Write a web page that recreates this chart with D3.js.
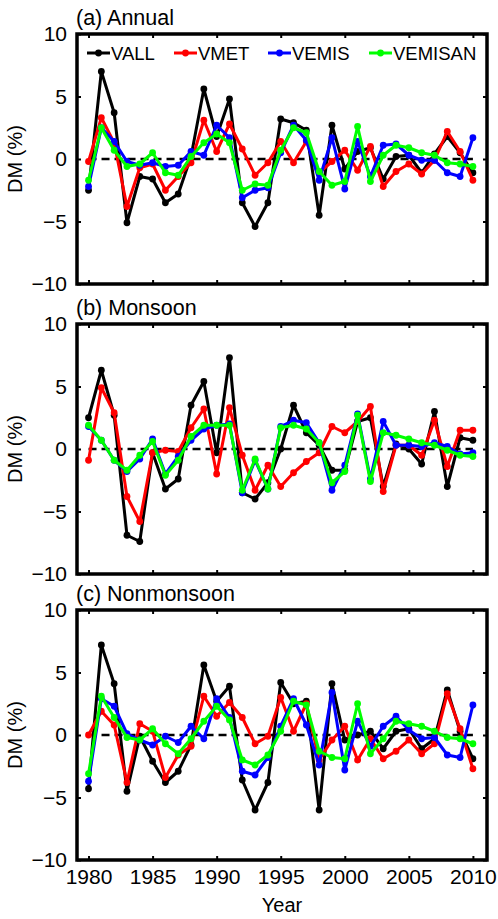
<!DOCTYPE html>
<html>
<head>
<meta charset="utf-8">
<script src="https://cdn.jsdelivr.net/npm/d3@7"></script>
<style>
  body { margin: 0; background: #fff; }
  text { font-family: "Liberation Sans", Arial, sans-serif; fill: #000; }
</style>
</head>
<body>
<div id="chart"></div>
<script>
// Years on the x axis
const years = d3.range(1980, 2011);
const xTicks = [1980, 1985, 1990, 1995, 2000, 2005, 2010];
const yTicks = [-10, -5, 0, 5, 10];

const seriesNames = ["VALL", "VMET", "VEMIS", "VEMISAN"];
const seriesColors = ["#000000", "#ff0000", "#0000ff", "#00ff00"];

// (a) Annual
const annualVALL = [-2.5, 7.0, 3.7, -5.1, -1.4, -1.6, -3.5, -2.8, 0.2, 5.6, 1.8, 4.8, -3.5, -5.4, -3.5, 3.2, 2.9, 2.3, -4.5, 2.7, -0.8, 0.6, 0.9, -1.6, 0.2, 0.3, -1.1, 0.4, 1.8, 0.5, -1.1];
const annualVMET = [-0.2, 3.3, 1.3, -3.8, -0.7, -0.4, -2.5, -1.4, -0.3, 3.1, 0.6, 2.8, 0.8, -1.3, -0.3, 1.4, -0.3, 1.4, -1.1, -0.2, 0.7, -0.9, 1.0, -2.2, -1.0, -0.4, -1.2, -0.1, 2.2, 0.6, -1.7];
const annualVEMIS = [-2.2, 2.5, 1.4, -0.2, -0.5, -0.3, -0.6, -0.5, 0.6, 0.3, 2.7, 1.7, -3.1, -2.5, -2.3, 0.5, 2.7, 1.5, -1.7, 1.7, -2.4, 1.4, -1.4, 1.1, 1.2, 0.3, -0.1, -0.1, -1.1, -1.4, 1.7];
const annualVEMISAN = [-1.7, 2.5, 0.7, -0.6, -0.4, 0.5, -1.1, -1.3, 0.2, 1.3, 2.0, 1.3, -2.5, -2.0, -2.1, 0.7, 2.5, 2.1, -1.0, -2.1, -1.8, 2.6, -1.8, 0.3, 1.1, 0.9, 0.5, 0.3, -0.3, -0.4, -0.6];

// (b) Monsoon
const monsoonVALL = [2.5, 6.3, 2.7, -6.9, -7.4, -0.3, -3.2, -2.4, 3.5, 5.4, -0.3, 7.3, -3.5, -4.0, -2.7, 0.0, 3.5, 1.3, 0.3, -1.7, -1.7, 2.2, 2.5, -3.0, 0.4, 0.0, -1.2, 3.0, -3.0, 0.9, 0.7];
const monsoonVMET = [-0.9, 4.9, 2.9, -3.8, -5.8, -0.3, -0.1, -0.2, 1.7, 3.2, -2.0, 3.3, -0.5, -3.3, -1.3, -3.0, -1.9, -1.0, -0.3, 1.8, 1.3, 2.2, 3.4, -3.4, 0.3, 0.3, -0.5, 2.3, -1.4, 1.5, 1.5];
const monsoonVEMIS = [1.8, 0.7, -0.9, -1.8, -0.8, 0.8, -2.0, -0.6, 0.7, 1.6, 1.9, 2.0, -3.5, -0.9, -3.2, 1.8, 2.3, 2.1, 0.5, -3.3, -1.3, 2.8, -2.4, 2.2, 0.3, 0.3, 0.2, 0.5, 0.2, -0.4, -0.3];
const monsoonVEMISAN = [1.9, 0.7, -0.9, -1.7, -0.5, 0.6, -2.1, -0.9, 1.0, 1.9, 1.9, 1.9, -3.3, -0.8, -3.2, 1.7, 1.9, 1.6, 0.5, -2.7, -1.8, 2.7, -2.6, 1.3, 1.1, 0.8, 0.5, 0.3, -0.1, -0.5, -0.6];

// (c) Nonmonsoon
const nonmonsoonVALL = [-4.3, 7.2, 4.1, -4.5, -0.1, -2.1, -3.8, -2.9, -0.8, 5.6, 2.7, 3.9, -3.6, -6.0, -3.8, 4.2, 2.5, 2.7, -6.0, 4.1, -0.4, 0.0, 0.3, -1.1, 0.3, 0.5, -1.1, -0.3, 3.6, 0.3, -1.9];
const nonmonsoonVMET = [0.0, 1.9, 0.8, -3.8, 0.9, 0.3, -3.4, -1.6, -0.9, 3.1, 1.5, 2.6, 1.4, -0.7, -0.1, 3.0, 0.3, 2.5, -2.0, -0.4, 0.7, -2.0, -0.3, -1.9, -1.3, -0.4, -1.5, -0.7, 3.3, 0.5, -2.7];
const nonmonsoonVEMIS = [-3.7, 2.9, 2.3, 0.1, -0.4, -0.8, -0.1, -0.6, 0.7, -0.3, 2.9, 1.4, -2.9, -3.2, -1.8, 0.7, 2.9, 0.8, -2.4, 3.4, -2.8, 1.1, -0.9, 0.7, 1.5, 0.4, -0.3, -0.2, -1.6, -1.8, 2.4];
const nonmonsoonVEMISAN = [-3.1, 3.1, 1.4, -0.2, -0.4, 0.5, -0.7, -1.5, -0.3, 1.1, 2.3, 1.2, -2.0, -2.4, -1.6, 0.3, 2.7, 2.4, -1.3, -1.8, -1.9, 2.5, -1.5, -0.3, 1.1, 0.9, 0.7, 0.3, -0.2, -0.3, -0.7];

const panels = [
  { title: "(a) Annual", series: [annualVALL, annualVMET, annualVEMIS, annualVEMISAN] },
  { title: "(b) Monsoon", series: [monsoonVALL, monsoonVMET, monsoonVEMIS, monsoonVEMISAN] },
  { title: "(c) Nonmonsoon", series: [nonmonsoonVALL, nonmonsoonVMET, nonmonsoonVEMIS, nonmonsoonVEMISAN] },
];

const config = {
  width: 498,
  height: 919,
  left: 77,
  right: 487,
  panelTops: [34, 324, 610],
  panelHeight: 250,
};

const svg = d3.select("#chart").append("svg")
  .attr("width", config.width)
  .attr("height", config.height);

// shared x scale
const xScale = d3.scaleLinear()
  .domain([1979.1, 2011.1])
  .range([config.left, config.right]);

const legendPos = [
  { x0: 87, x1: 110 },
  { x0: 174, x1: 197 },
  { x0: 268, x1: 291 },
  { x0: 369, x1: 392 },
];

panels.forEach((p, i) => {
  const top = config.panelTops[i];
  const bottom = top + config.panelHeight;
  const g = svg.append("g");

  const yScale = d3.scaleLinear().domain([-10, 10]).range([bottom, top]);

  // Title
  g.append("text")
    .attr("x", 76)
    .attr("y", top - 9)
    .attr("font-size", 21.5)
    .text(p.title);

  // y axis label
  g.append("text")
    .attr("transform", `translate(22,${(top + bottom) / 2}) rotate(-90)`)
    .attr("text-anchor", "middle")
    .attr("font-size", 20)
    .text("DM (%)");

  // Left axis with labels
  const yAxisL = d3.axisLeft(yScale).tickValues(yTicks).tickSize(-4).tickPadding(10);
  g.append("g")
    .attr("transform", `translate(${config.left},0)`)
    .call(yAxisL)
    .call((a) => a.select(".domain").remove())
    .call((a) => a.selectAll("text").attr("font-size", 21).attr("font-family", null))
    .call((a) => a.selectAll("line").attr("stroke-width", 2));

  // Right axis, ticks only
  g.append("g")
    .attr("transform", `translate(${config.right},0)`)
    .call(d3.axisRight(yScale).tickValues(yTicks).tickSize(-4).tickFormat(""))
    .call((a) => a.select(".domain").remove())
    .call((a) => a.selectAll("line").attr("stroke-width", 2));

  // Bottom axis, labels only on last panel
  const xAxisB = d3.axisBottom(xScale).tickValues(xTicks).tickSize(-4).tickPadding(9)
    .tickFormat(i === panels.length - 1 ? d3.format("d") : "");
  g.append("g")
    .attr("transform", `translate(0,${bottom})`)
    .call(xAxisB)
    .call((a) => a.select(".domain").remove())
    .call((a) => a.selectAll("text").attr("font-size", 21).attr("font-family", null))
    .call((a) => a.selectAll("line").attr("stroke-width", 2));

  // Top axis, ticks only
  g.append("g")
    .attr("transform", `translate(0,${top})`)
    .call(d3.axisTop(xScale).tickValues(xTicks).tickSize(-4).tickFormat(""))
    .call((a) => a.select(".domain").remove())
    .call((a) => a.selectAll("line").attr("stroke-width", 2));

  // Zero dashed line
  g.append("line")
    .attr("x1", xScale(1980))
    .attr("x2", xScale(2010))
    .attr("y1", yScale(0))
    .attr("y2", yScale(0))
    .attr("stroke", "#000")
    .attr("stroke-width", 2.5)
    .attr("stroke-dasharray", "8,5");

  const line = d3.line()
    .x((d, k) => xScale(years[k]))
    .y((d) => yScale(d));

  // Series lines and markers
  p.series.forEach((vals, s) => {
    g.append("path")
      .datum(vals)
      .attr("fill", "none")
      .attr("stroke", seriesColors[s])
      .attr("stroke-width", 3)
      .attr("stroke-linejoin", "round")
      .attr("d", line);
    g.selectAll(null)
      .data(vals)
      .join("circle")
      .attr("cx", (d, k) => xScale(years[k]))
      .attr("cy", (d) => yScale(d))
      .attr("r", 3.4)
      .attr("fill", seriesColors[s]);
  });

  // Frame
  g.append("rect")
    .attr("x", config.left)
    .attr("y", top)
    .attr("width", config.right - config.left)
    .attr("height", config.panelHeight)
    .attr("fill", "none")
    .attr("stroke", "#000")
    .attr("stroke-width", 3.5);

  // Legend only in first panel
  if (i === 0) {
    const ly = 53;
    seriesNames.forEach((name, s) => {
      const lp = legendPos[s];
      g.append("line")
        .attr("x1", lp.x0).attr("x2", lp.x1)
        .attr("y1", ly).attr("y2", ly)
        .attr("stroke", seriesColors[s])
        .attr("stroke-width", 3);
      g.append("circle")
        .attr("cx", (lp.x0 + lp.x1) / 2)
        .attr("cy", ly)
        .attr("r", 3.4)
        .attr("fill", seriesColors[s]);
      g.append("text")
        .attr("x", lp.x1 + 1)
        .attr("y", ly)
        .attr("dy", "0.36em")
        .attr("font-size", 18.5)
        .text(name);
    });
  }
});

// x axis label
svg.append("text")
  .attr("x", (config.left + config.right) / 2)
  .attr("y", 912)
  .attr("text-anchor", "middle")
  .attr("font-size", 20)
  .text("Year");
</script>
</body>
</html>
